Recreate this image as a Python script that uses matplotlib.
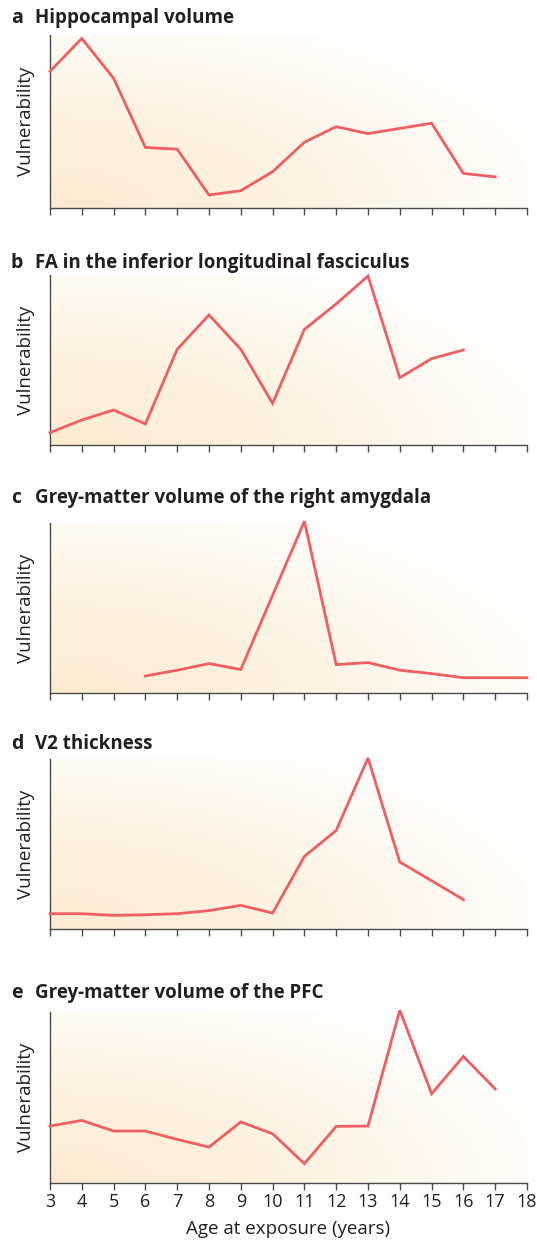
import numpy as np
import matplotlib
matplotlib.use("Agg")
import matplotlib.pyplot as plt
from matplotlib.colors import LinearSegmentedColormap

# Ages (years) on the x axis
ages = list(range(3, 19))

# Vulnerability (0 = axis bottom, 1 = axis top)
hippo_x = list(range(3, 18))
hippo_y = [0.79, 0.98, 0.75, 0.35, 0.34, 0.075, 0.10, 0.21, 0.38, 0.47, 0.43, 0.46, 0.49, 0.20, 0.18]

fa_x = list(range(3, 17))
fa_y = [0.073, 0.147, 0.206, 0.124, 0.563, 0.765, 0.563, 0.245, 0.68, 0.83, 0.994, 0.396, 0.508, 0.559]

amyg_x = list(range(6, 19))
amyg_y = [0.10, 0.134, 0.173, 0.138, 0.575, 1.01, 0.167, 0.179, 0.134, 0.114, 0.09, 0.09, 0.09]

v2_x = list(range(3, 17))
v2_y = [0.09, 0.09, 0.08, 0.084, 0.09, 0.108, 0.139, 0.094, 0.427, 0.58, 1.006, 0.394, 0.284, 0.173]

pfc_x = list(range(3, 18))
pfc_y = [0.333, 0.366, 0.304, 0.304, 0.255, 0.21, 0.357, 0.288, 0.113, 0.331, 0.333, 1.01, 0.522, 0.74, 0.55]

letters = ["a", "b", "c", "d", "e"]
titles = ["Hippocampal volume",
          "FA in the inferior longitudinal fasciculus",
          "Grey-matter volume of the right amygdala",
          "V2 thickness",
          "Grey-matter volume of the PFC"]
series = [(hippo_x, hippo_y), (fa_x, fa_y), (amyg_x, amyg_y), (v2_x, v2_y), (pfc_x, pfc_y)]

W, H = 537, 1241
fig = plt.figure(figsize=(W / 100, H / 100), dpi=100)
plt.rcParams['font.family'] = ['Open Sans', 'DejaVu Sans']

line_color = "#EE5F64"
spine_color = "#4a4a4a"
text_color = "#231f20"

# panel boxes in pixels: (top, bottom) and title centre
boxes = [(35, 208, 18), (275, 445, 263), (523, 693, 498), (759, 929, 744), (1012, 1183, 993)]
left_px, right_px = 50, 527

# background gradient (cream at bottom-left, fading to white)
gx, gy = np.meshgrid(np.linspace(0, 1, 300), np.linspace(0, 1, 120))
dist = np.sqrt((gx / 1.1) ** 2 + (gy / 1.2) ** 2)
grad = np.clip(1 - dist, 0, 1) ** 0.85
cmap = LinearSegmentedColormap.from_list("cream", ["#ffffff", "#FCEBCF"])

for i, ((xs, ys), (top, bot, ty)) in enumerate(zip(series, boxes)):
    ax = fig.add_axes([left_px / W, 1 - bot / H, (right_px - left_px) / W, (bot - top) / H])
    ax.imshow(grad, origin="lower", cmap=cmap, vmin=0, vmax=1, aspect="auto",
              extent=[0, 1, 0, 1], transform=ax.transAxes, zorder=0)
    ax.plot(xs, ys, color=line_color, lw=2.0, clip_on=False, zorder=3,
            solid_joinstyle="miter")
    ax.set_xlim(3, 18)
    ax.set_ylim(0, 1)
    ax.set_xticks(ages)
    ax.set_yticks([])
    for s in ["top", "right"]:
        ax.spines[s].set_visible(False)
    for s in ["left", "bottom"]:
        ax.spines[s].set_color(spine_color)
        ax.spines[s].set_linewidth(1.0)
    ax.tick_params(axis="x", direction="out", length=5, width=1.0, color=spine_color,
                   labelsize=13, labelcolor=text_color, pad=2)
    if i < 4:
        ax.set_xticklabels([])
    else:
        ax.set_xlabel("Age at exposure (years)", fontsize=13.5, color=text_color, labelpad=7)
    ax.text(-24 / (right_px - left_px), 0.5, "Vulnerability", rotation=90, va="center",
            ha="center", fontsize=13.5, color=text_color, transform=ax.transAxes)
    fig.text(11 / W, 1 - ty / H, letters[i], fontsize=14, fontweight="bold",
             color=text_color, va="center", ha="left")
    fig.text(35 / W, 1 - ty / H, titles[i], fontsize=13.5, fontweight="bold",
             color=text_color, va="center", ha="left")

fig.savefig("out.png", dpi=100)
